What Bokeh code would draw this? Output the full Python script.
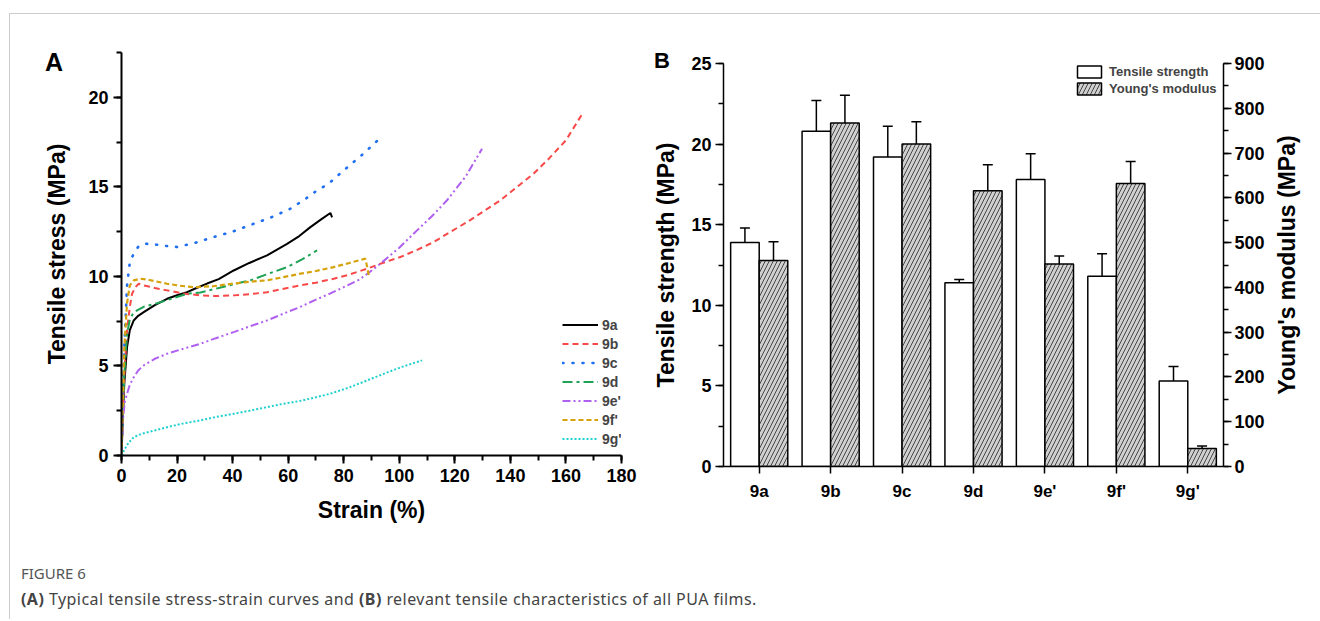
from bokeh.plotting import figure
from bokeh.models import (Range1d, LinearAxis, SingleIntervalTicker, Legend, LegendItem,
                          FactorRange, Whisker, ColumnDataSource, Div, TeeHead, Spacer)
from bokeh.layouts import row, column
from bokeh.transform import dodge
from bokeh.embed import file_html
from bokeh.resources import INLINE

# ---------------- data: panel A (stress-strain curves) ----------------
strain_9a = [0, 0.5, 1, 2, 3, 4.4, 6, 8, 12, 16.4, 20, 23.6, 27, 30.8, 35, 40.4, 46, 52.4, 56, 59.6, 64, 68, 72, 75.2, 75.8]
stress_9a = [0, 2.2, 4.0, 6.05, 7.0, 7.54, 7.8, 8.0, 8.4, 8.75, 8.95, 9.12, 9.35, 9.6, 9.85, 10.33, 10.75, 11.17, 11.5, 11.82, 12.25, 12.75, 13.2, 13.54, 13.3]

strain_9b = [0, 0.5, 1.2, 2, 3, 3.8, 5, 6.2, 8, 12, 16.4, 22, 28.4, 34, 40.4, 46, 52.4, 58, 64.4, 70, 76.4, 82, 88.4, 94, 100.4, 106, 112.4, 118, 124.4, 130, 136.4, 142, 148.4, 154, 160, 165.8]
stress_9b = [0, 2.5, 5, 7, 8.3, 9.03, 9.4, 9.59, 9.5, 9.35, 9.22, 9.05, 8.94, 8.9, 8.94, 9.0, 9.12, 9.3, 9.5, 9.65, 9.87, 10.1, 10.43, 10.75, 11.08, 11.45, 11.92, 12.45, 13.03, 13.6, 14.25, 14.95, 15.74, 16.6, 17.6, 19.05]

strain_9c = [0, 0.5, 1, 2, 3, 4.4, 6, 8, 12, 16, 20, 26, 33.2, 40, 47.6, 54, 60.8, 66, 70.4, 74.6, 80, 86, 92]
stress_9c = [0, 3, 6, 9.5, 10.8, 11.27, 11.65, 11.83, 11.78, 11.7, 11.64, 11.85, 12.2, 12.5, 12.94, 13.3, 13.78, 14.3, 14.8, 15.18, 15.92, 16.7, 17.56]

strain_9d = [0, 0.5, 1, 2, 3, 4.4, 5.6, 8, 12.8, 18, 23.6, 28.4, 35, 40, 46.4, 52, 59.6, 65, 70.4]
stress_9d = [0, 2.5, 4.5, 6.8, 7.6, 8.0, 8.1, 8.3, 8.5, 8.75, 9.03, 9.1, 9.35, 9.55, 9.78, 10.1, 10.52, 10.95, 11.45]

strain_9e = [0, 0.3, 0.7, 1.2, 2.0, 3, 4.4, 6, 8, 12, 16.4, 22, 28.4, 34, 40.4, 46, 52.4, 58, 64.4, 70, 75.2, 80, 85.4, 89, 93.2, 100, 106.4, 112, 117.2, 124, 129.8]
stress_9e = [0, 1.2, 2.3, 3.0, 3.45, 3.95, 4.37, 4.75, 5.03, 5.4, 5.68, 5.95, 6.24, 6.55, 6.89, 7.2, 7.54, 7.9, 8.3, 8.7, 9.05, 9.4, 9.8, 10.2, 10.71, 11.6, 12.57, 13.4, 14.25, 15.6, 17.13]

strain_9f = [0, 0.5, 1, 2, 3, 4.4, 6.8, 10, 16.4, 21, 26, 33, 40.4, 46, 52.4, 58, 64.4, 70, 76.4, 82, 87.8, 88.2, 88.6, 89]
stress_9f = [0, 3, 6, 8.5, 9.5, 9.78, 9.87, 9.8, 9.59, 9.48, 9.4, 9.45, 9.6, 9.7, 9.78, 9.95, 10.15, 10.3, 10.52, 10.75, 10.99, 10.7, 10.4, 10.05]

strain_9g = [0, 0.4, 0.8, 1.5, 2.5, 4.4, 7, 10, 16.4, 22, 28.4, 34, 40.4, 46, 52.4, 58, 64.4, 70, 75.2, 82, 88.4, 95, 101, 108.2]
stress_9g = [0, 0.08, 0.25, 0.45, 0.7, 1.02, 1.2, 1.32, 1.58, 1.78, 1.96, 2.15, 2.33, 2.5, 2.70, 2.88, 3.05, 3.25, 3.45, 3.8, 4.19, 4.6, 4.95, 5.31]

curve_names = ["9a", "9b", "9c", "9d", "9e'", "9f'", "9g'"]

# ---------------- data: panel B (bars) ----------------
samples = ["9a", "9b", "9c", "9d", "9e'", "9f'", "9g'"]
tensile_strength = [13.9, 20.8, 19.2, 11.4, 17.8, 11.8, 5.3]
tensile_err = [0.9, 1.9, 1.9, 0.2, 1.6, 1.4, 0.9]
youngs_modulus = [460, 767, 720, 616, 452, 632, 40]
youngs_err = [42, 62, 50, 58, 18, 49, 6]

FONT = "Liberation Sans"

# ================= Panel A =================
pA = figure(width=630, height=520, x_range=Range1d(0, 180), y_range=Range1d(0, 22.5),
            output_backend="svg", toolbar_location=None,
            min_border_left=111, min_border_right=19, min_border_top=38, min_border_bottom=79)
pA.outline_line_color = None
pA.border_fill_color = None
pA.grid.visible = False
pA.xaxis.ticker = SingleIntervalTicker(interval=20, num_minor_ticks=2)
pA.yaxis.ticker = SingleIntervalTicker(interval=5, num_minor_ticks=2)
pA.xaxis.axis_label = "Strain (%)"
pA.yaxis.axis_label = "Tensile stress (MPa)"
for ax in (pA.xaxis[0], pA.yaxis[0]):
    ax.axis_line_width = 2
    ax.major_tick_line_width = 2
    ax.minor_tick_line_width = 2
    ax.major_tick_in = 0
    ax.major_tick_out = 8
    ax.minor_tick_in = 0
    ax.minor_tick_out = 5
    ax.major_label_text_font = FONT
    ax.major_label_text_font_style = "bold"
    ax.major_label_text_font_size = "18px"
    ax.major_label_text_color = "black"
    ax.axis_label_text_font = FONT
    ax.axis_label_text_font_style = "bold"
    ax.axis_label_text_font_size = "23px"
    ax.axis_label_text_color = "black"
    ax.major_label_standoff = 5
pA.xaxis.axis_label_standoff = 12
pA.yaxis.axis_label_standoff = 15

styles = [
    ("black", "solid", 2, "butt"),
    ("#f84848", "6 4", 2, "butt"),
    ("#1f6ff0", "1 9", 2.6, "round"),
    ("#1ea255", "10 4 3 4", 2, "butt"),
    ("#b060f0", "8 3 2 3 2 3", 2, "butt"),
    ("#d6a20c", "5 3", 2.2, "butt"),
    ("#1fd0d0", "2 2", 2, "butt"),
]
xs = [strain_9a, strain_9b, strain_9c, strain_9d, strain_9e, strain_9f, strain_9g]
ys = [stress_9a, stress_9b, stress_9c, stress_9d, stress_9e, stress_9f, stress_9g]
items = []
for name, x, y, (c, d, w, cap) in zip(curve_names, xs, ys, styles):
    r = pA.line(x, y, line_color=c, line_dash=d, line_width=w, line_cap=cap)
    items.append(LegendItem(label=name, renderers=[r]))
legA = Legend(items=items, location=(441, 7), glyph_width=36, glyph_height=19, label_height=19,
              spacing=0, padding=0, margin=0, label_standoff=4, border_line_color=None,
              background_fill_alpha=0, label_text_font=FONT, label_text_font_style="bold",
              label_text_font_size="14px")
pA.add_layout(legA, "center")

# ================= Panel B =================
pB = figure(width=670, height=520, x_range=FactorRange(*samples, range_padding=0),
            y_range=Range1d(0, 25), output_backend="svg", toolbar_location=None,
            min_border_left=83, min_border_right=87, min_border_top=38, min_border_bottom=79)
pB.outline_line_color = None
pB.border_fill_color = None
pB.grid.visible = False
pB.extra_y_ranges = {"ym": Range1d(0, 900)}
pB.add_layout(LinearAxis(y_range_name="ym",
                         ticker=SingleIntervalTicker(interval=100, num_minor_ticks=2)), "right")
pB.yaxis[0].ticker = SingleIntervalTicker(interval=5, num_minor_ticks=2)
pB.yaxis[0].axis_label = "Tensile strength (MPa)"
for ax in list(pB.xaxis) + list(pB.yaxis):
    ax.axis_line_width = 1.5
    ax.major_tick_line_width = 1.5
    ax.minor_tick_line_width = 1.5
    ax.major_tick_in = 0
    ax.major_tick_out = 8
    ax.minor_tick_in = 0
    ax.minor_tick_out = 5
    ax.major_label_text_font = FONT
    ax.major_label_text_font_style = "bold"
    ax.major_label_text_font_size = "18px"
    ax.major_label_text_color = "black"
    ax.axis_label_text_font = FONT
    ax.axis_label_text_font_style = "bold"
    ax.axis_label_text_font_size = "23px"
    ax.axis_label_text_color = "black"
    ax.major_label_standoff = 4
pB.xaxis.major_tick_out = 7
pB.xaxis.major_label_standoff = 8
pB.xaxis.major_label_text_font_size = "17px"
pB.yaxis.axis_label_standoff = 9
pB.yaxis[1].major_label_standoff = 3

src = ColumnDataSource(dict(sample=samples, ts=tensile_strength,
                            ts_lo=[v - e for v, e in zip(tensile_strength, tensile_err)],
                            ts_hi=[v + e for v, e in zip(tensile_strength, tensile_err)],
                            ym=youngs_modulus,
                            ym_lo=[v - e for v, e in zip(youngs_modulus, youngs_err)],
                            ym_hi=[v + e for v, e in zip(youngs_modulus, youngs_err)]))
r_ts = pB.vbar(x=dodge("sample", -0.2, range=pB.x_range), top="ts", width=0.4, source=src,
               fill_color="white", line_color="black", line_width=1.5)
r_ym = pB.vbar(x=dodge("sample", 0.2, range=pB.x_range), top="ym", width=0.4, source=src,
               y_range_name="ym", fill_color="#d0d0d0", line_color="black", line_width=1.5,
               hatch_pattern="/", hatch_color="#222222", hatch_scale=8, hatch_weight=0.8)
w1 = Whisker(base=dodge("sample", -0.2, range=pB.x_range), lower="ts_lo", upper="ts_hi",
             source=src, line_width=1.5, line_color="black",
             upper_head=TeeHead(size=10, line_width=1.5), lower_head=TeeHead(size=10, line_width=1.5))
w2 = Whisker(base=dodge("sample", 0.2, range=pB.x_range), lower="ym_lo", upper="ym_hi",
             source=src, y_range_name="ym", line_width=1.5, line_color="black",
             upper_head=TeeHead(size=10, line_width=1.5), lower_head=TeeHead(size=10, line_width=1.5))
pB.add_layout(w1)
pB.add_layout(w2)
legB = Legend(items=[LegendItem(label="Tensile strength", renderers=[r_ts]),
                     LegendItem(label="Young's modulus", renderers=[r_ym])],
              location=(351, 370), glyph_width=30, glyph_height=15, label_height=15,
              spacing=2, padding=0, margin=0, label_standoff=5, border_line_color=None,
              background_fill_alpha=0, label_text_font=FONT, label_text_font_style="bold",
              label_text_font_size="13px")
pB.add_layout(legB, "center")

# ---------------- overlay texts (panel letters, right axis title) ----------------
OVER = {"position": "relative", "z-index": "5", "overflow": "visible"}
TXT = "position:absolute;font-family:'Liberation Sans';font-weight:bold;color:black;white-space:nowrap;"
divA = Div(width=630, height=0, margin=0, styles=OVER, text=(
    f"<div style=\"{TXT}left:35px;top:36px;font-size:25px;line-height:25px\">A</div>"))
divB = Div(width=670, height=0, margin=0, styles=OVER, text=(
    f"<div style=\"{TXT}left:14px;top:36px;font-size:22px;line-height:22px\">B</div>"
    f"<div style=\"{TXT}left:647px;top:251px;font-size:23px;line-height:23px;"
    "transform:translate(-50%,-50%) rotate(-90deg)\">Young's modulus (MPa)</div>"))

caption = Div(width=1300, height=60, margin=0, text=(
    "<div style=\"font-family:'Noto Sans',sans-serif;padding-left:11px;\">"
    "<div style='font-size:15px;color:#555555;line-height:20px;margin-top:18px'>FIGURE 6</div>"
    "<div style='font-size:16px;color:#444444;line-height:20px;margin-top:6px;letter-spacing:0.45px'>"
    "<b>(A)</b> Typical tensile stress-strain curves and <b>(B)</b> relevant tensile "
    "characteristics of all PUA films.</div></div>"))

GRAY = {"background-color": "#cccccc"}
content = column(row(column(divA, pA), column(divB, Spacer(width=670, height=11), pB)), caption)
hline = row(Spacer(width=9, height=1), Div(width=1311, height=1, margin=0, styles=GRAY))
body = row(Spacer(width=9, height=605), Div(width=1, height=605, margin=0, styles=GRAY), content)
layout = column(Spacer(width=1320, height=13), hline, body)

open("out.html", "w").write(file_html(layout, INLINE))
